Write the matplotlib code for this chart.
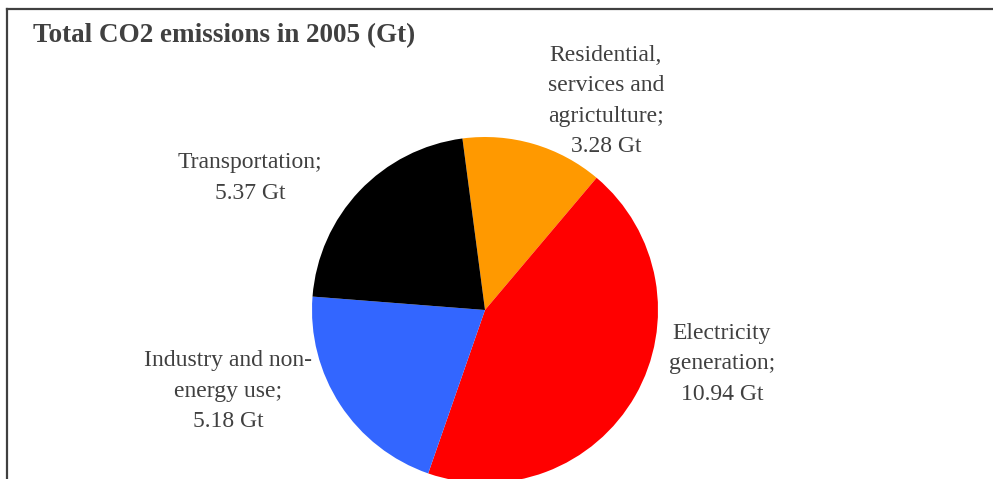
import matplotlib.pyplot as plt
from matplotlib.lines import Line2D

# Total CO2 emissions by sector, 2005 (Gt)
sectors = ["Residential,\nservices and\nagrictulture;",
           "Electricity\ngeneration;",
           "Industry and non-\nenergy use;",
           "Transportation;"]
emissions = [3.28, 10.94, 5.18, 5.37]
colors = ["#FF9900", "#FF0000", "#3366FF", "#000000"]

W, H = 993, 479
fig = plt.figure(figsize=(W / 100, H / 100), dpi=100)
plt.rcParams["font.family"] = ["Liberation Serif", "DejaVu Serif"]
text_color = "#404040"

# chart frame: left and top edges only
fig.add_artist(Line2D([7 / W, 7 / W], [0, 1 - 9 / H], color=text_color, lw=1.6))
fig.add_artist(Line2D([7 / W, 1], [1 - 9 / H, 1 - 9 / H], color=text_color, lw=1.6))

fig.text(33 / W, 1 - 23 / H, "Total CO2 emissions in 2005 (Gt)", fontsize=19.5,
         fontweight="bold", color=text_color, ha="left", va="top")

# pie: centre (485, 310) px, radius 173 px
cx, cy, r = 485, 310, 173
ax = fig.add_axes([(cx - r) / W, (H - cy - r) / H, 2 * r / W, 2 * r / H])
ax.pie(emissions, colors=colors, startangle=97.5, counterclock=False,
       wedgeprops=dict(linewidth=0))
ax.set_xlim(-1, 1)
ax.set_ylim(-1, 1)
ax.set_aspect("equal")
ax.axis("off")

# data labels, centred at pixel positions
label_pos = [(606, 101), (722, 364), (228, 391), (250, 178)]
for name, val, (x, y) in zip(sectors, emissions, label_pos):
    fig.text(x / W, 1 - y / H, f"{name}\n{val:.2f} Gt", fontsize=17,
             color=text_color, ha="center", va="center", linespacing=1.58,
             multialignment="center")

fig.savefig("out.png", dpi=100)
